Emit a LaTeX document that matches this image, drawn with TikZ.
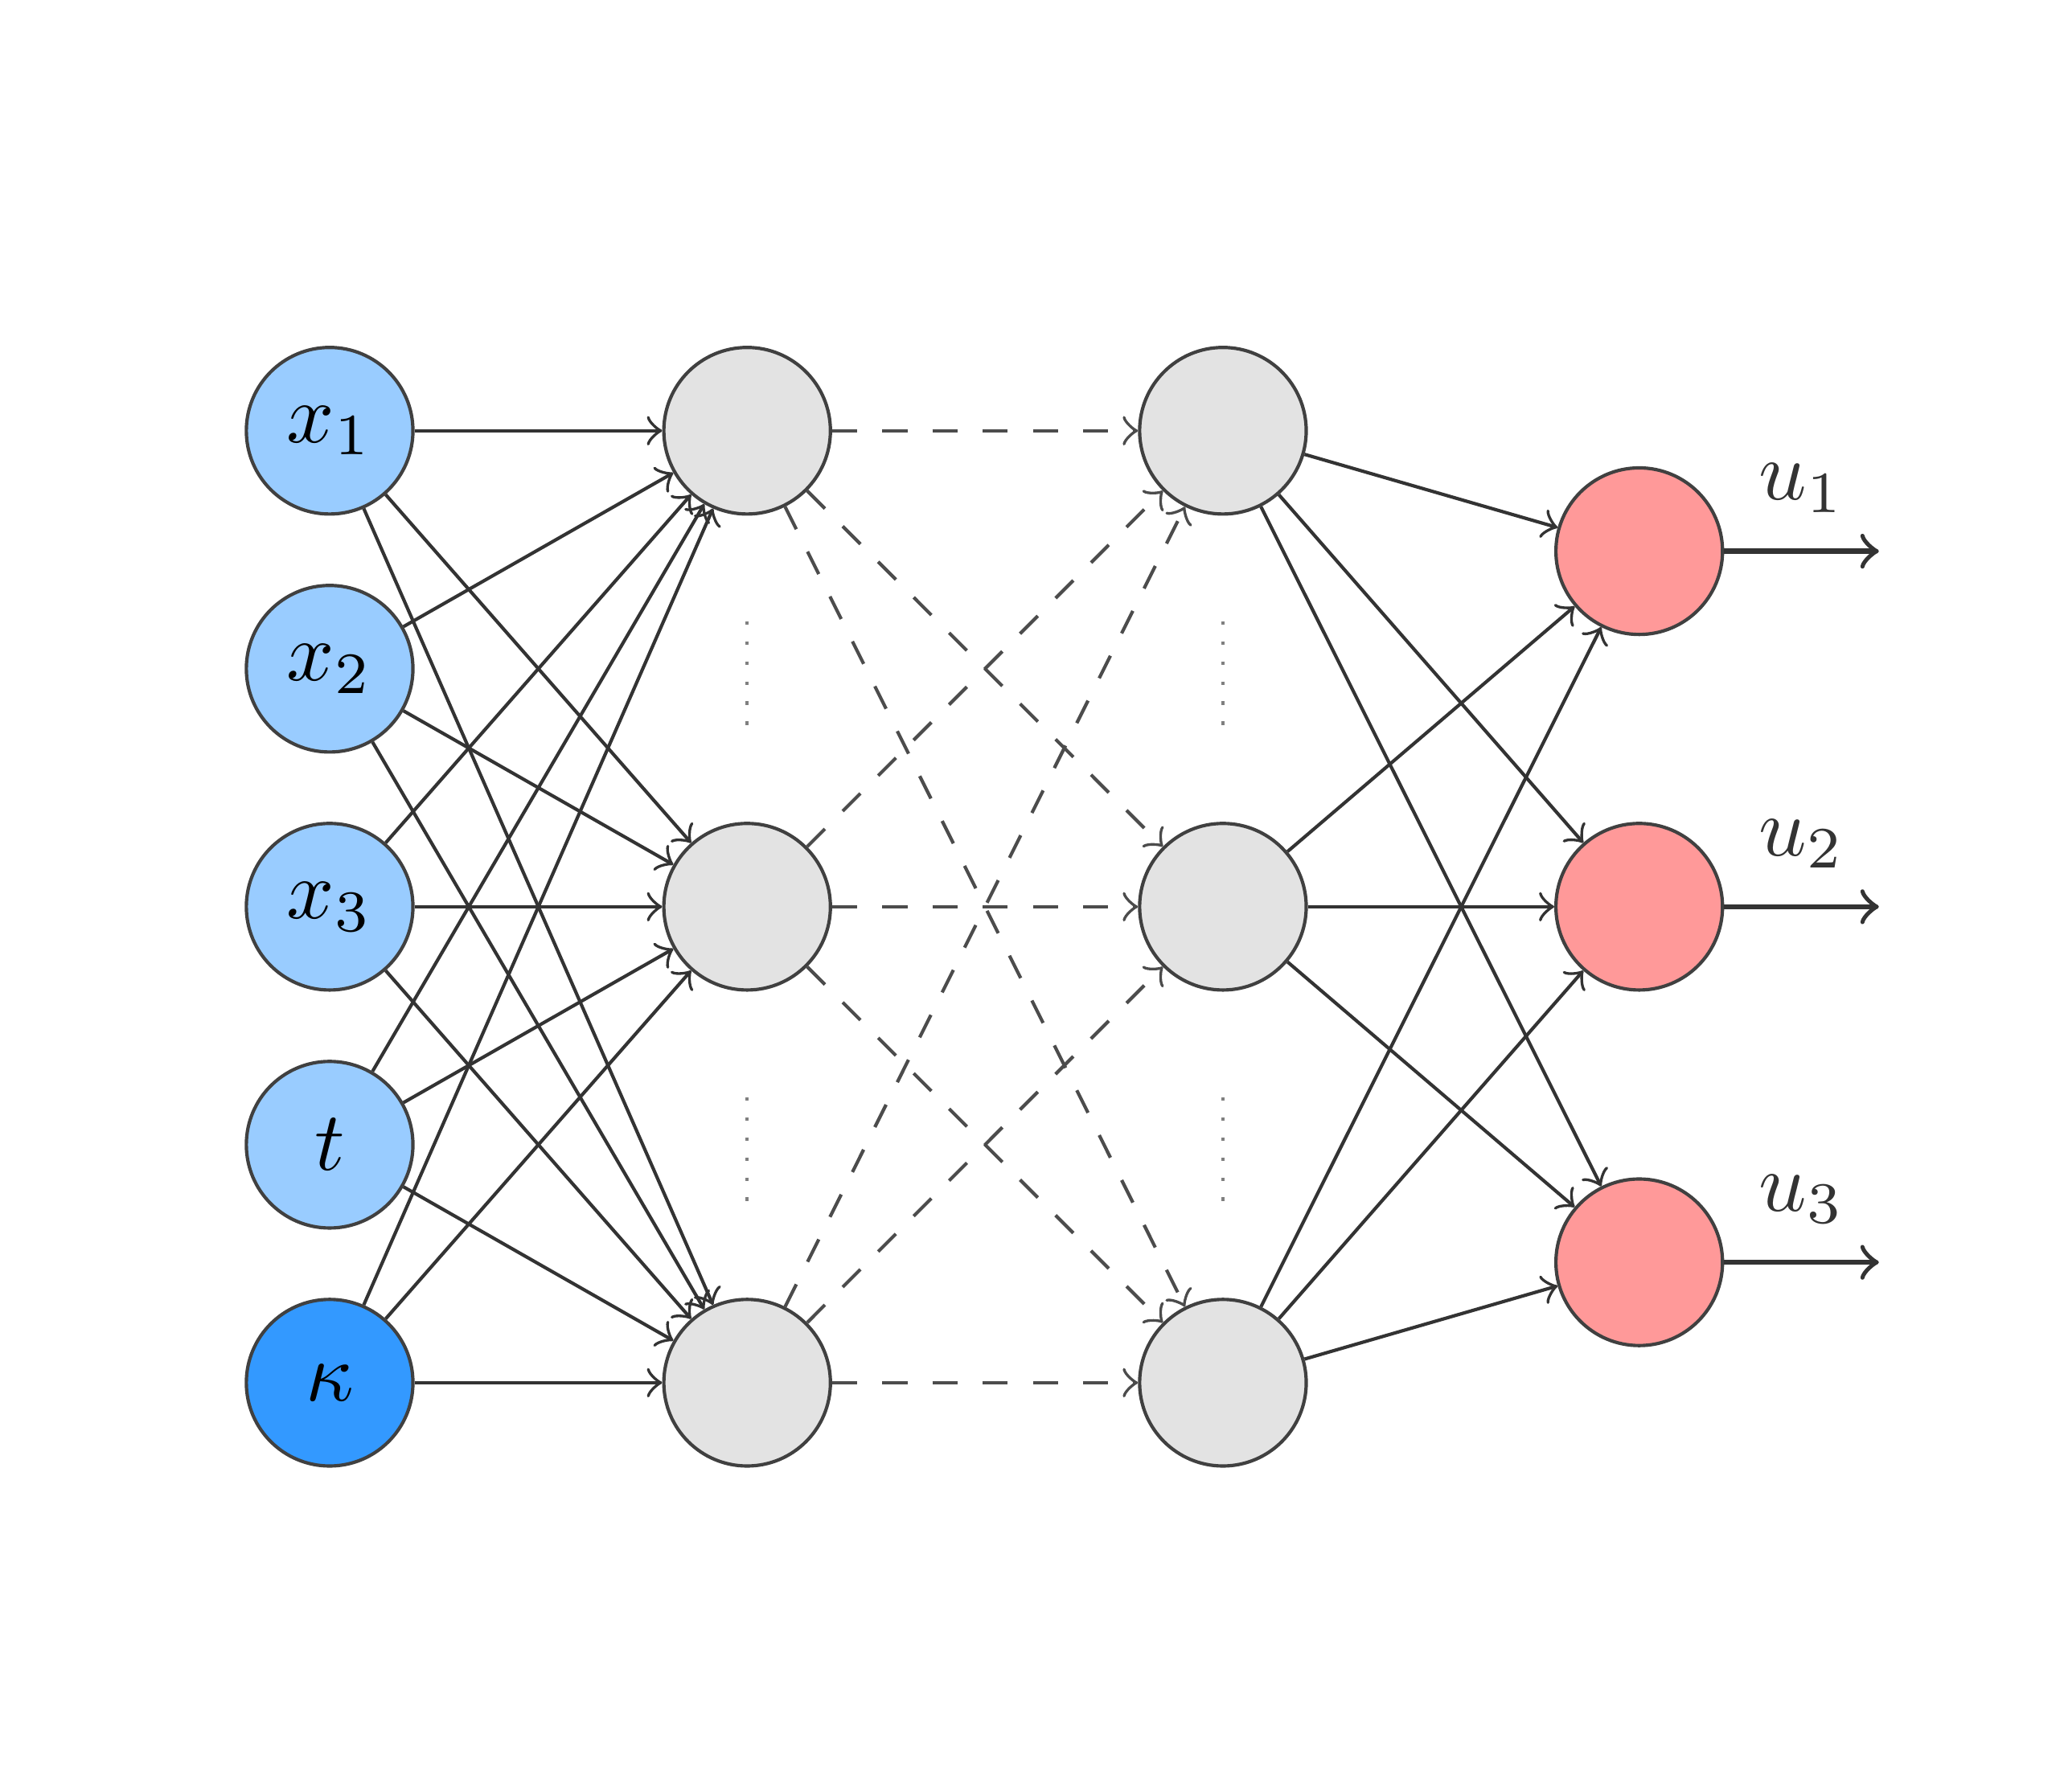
\documentclass[tikz,border=0pt]{standalone}
\usepackage{amsmath}
\usepackage{xcolor}
\usetikzlibrary{arrows, positioning}

\definecolor{inputblue}{HTML}{99CCFF}
\definecolor{paramblue}{HTML}{3399FF}
\definecolor{hiddengray}{HTML}{E3E3E3}
\definecolor{outputred}{HTML}{FF9999}

\begin{document}
\begin{tikzpicture}[
			node distance = 0.286cm,
			inputnode/.style = {circle, draw=black!75, fill=inputblue,
					minimum size=0.7cm, inner sep=0pt},
			paramnode/.style = {inputnode, fill=paramblue},
			hiddennode/.style = {circle, draw=black!75, fill=hiddengray,
					minimum size=0.7cm},
			outputnode/.style = {circle, draw=black!75, fill=outputred,
					minimum size=0.7cm},
			line/.style = {draw, black!80, ->},
			dashline/.style = {line, dashed, black!70},
		]
		\useasboundingbox (-1.385,-3.72) rectangle (7.287,3.81);

		% Input layer
		\node [inputnode] (x1) at (0,2) {$x_1$};
		\node [inputnode, below=of x1] (x2) {$x_2$};
		\node [inputnode, below=of x2] (x3) {$x_3$};
		\node [inputnode, below=of x3] (t) {$t$};
		\node [paramnode, below=of t] (kappa) {$\kappa$};

		% First hidden layer
		\node [hiddennode, right=1.04cm of x1] (h1top) {};
		\node [hiddennode, right=1.04cm of x3] (h1mid) {};
		\node [hiddennode, right=1.04cm of kappa] (h1bot) {};

		% Second hidden layer
		\node [hiddennode, right=1.285cm of h1top] (h2top) {};
		\node [hiddennode, right=1.285cm of h1mid] (h2mid) {};
		\node [hiddennode, right=1.285cm of h1bot] (h2bot) {};

		% Output layer
		\node [outputnode, right=1.035cm of h2mid] (o2) {};
		\node [outputnode, above=0.78cm of o2] (o1) {};
		\node [outputnode, below=0.78cm of o2] (o3) {};

		% Ends of the output arrows
		\coordinate [right=0.65cm of o1] (o1end);
		\coordinate [right=0.65cm of o2] (o2end);
		\coordinate [right=0.65cm of o3] (o3end);

		% Skipped hidden units
		\draw [dotted, gray] ([yshift=-0.8cm]h1top.center) -- ([yshift=-1.24cm]h1top.center);
		\draw [dotted, gray] ([yshift=-0.8cm]h1mid.center) -- ([yshift=-1.26cm]h1mid.center);
		\draw [dotted, gray] ([yshift=-0.8cm]h2top.center) -- ([yshift=-1.24cm]h2top.center);
		\draw [dotted, gray] ([yshift=-0.8cm]h2mid.center) -- ([yshift=-1.26cm]h2mid.center);

		% Draw arrows
		\foreach \i in {x1,x2,x3,t,kappa}
		\foreach \j in {h1top,h1mid,h1bot}
		\path [line] (\i) -- (\j);
		\foreach \i in {h1top,h1mid,h1bot}
		\foreach \j in {h2top,h2mid,h2bot}
		\path [dashline] (\i) -- (\j);
		\foreach \i in {h2top,h2mid,h2bot}
		\foreach \j in {o1,o2,o3}
		\path [line] (\i) -- (\j);
		\path [line, semithick] (o1) -- (o1end) node [midway, above, yshift=1pt] {$u_1$};
		\path [line, semithick] (o2) -- (o2end) node [midway, above, yshift=1pt] {$u_2$};
		\path [line, semithick] (o3) -- (o3end) node [midway, above, yshift=1pt] {$u_3$};
	\end{tikzpicture}
\end{document}
